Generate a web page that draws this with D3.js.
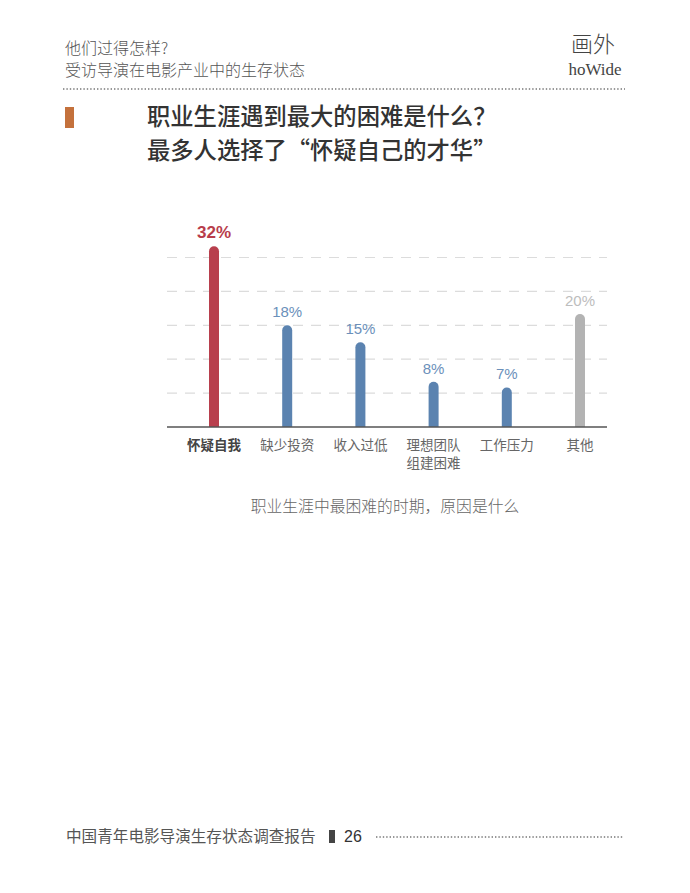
<!DOCTYPE html>
<html>
<head>
<meta charset="utf-8">
<script src="https://cdn.jsdelivr.net/npm/d3@7"></script>
<style>
  html, body { margin: 0; padding: 0; background: #fff; }
  svg { display: block; }
</style>
</head>
<body>
<script>
// ---- data ----
const categories = ["怀疑自我", "缺少投资", "收入过低", "理想团队组建困难", "工作压力", "其他"];
const categoryLines = [["怀疑自我"], ["缺少投资"], ["收入过低"], ["理想团队", "组建困难"], ["工作压力"], ["其他"]];
const values = [32, 18, 15, 8, 7, 20];
const valueLabels = ["32%", "18%", "15%", "8%", "7%", "20%"];
const barKinds = ["highlight", "normal", "normal", "normal", "normal", "other"];
const gridValues = [6, 12, 18, 24, 30];

const headerLines = ["他们过得怎样?", "受访导演在电影产业中的生存状态"];
const titleLines = ["职业生涯遇到最大的困难是什么？", "最多人选择了“怀疑自己的才华”"];
const caption = "职业生涯中最困难的时期，原因是什么";
const footerText = "中国青年电影导演生存状态调查报告";
const pageNumber = "26";

// ---- styles ----
const CJK = "'Noto Sans CJK SC', 'Noto Sans', sans-serif";
const LAT = "'Liberation Sans', Arial, sans-serif";
const barColor = { highlight: "#b83f4d", normal: "#5b83b0", other: "#b3b3b3" };
const labelColor = { highlight: "#b83d4b", normal: "#6b90ba", other: "#bdbdbd" };

const W = 690, H = 893;
const svg = d3.select("body").append("svg").attr("width", W).attr("height", H);

// ---- header ----
svg.selectAll("text.hdr").data(headerLines).enter().append("text")
  .attr("class", "hdr")
  .attr("x", 65).attr("y", (d, i) => 54 + i * 22)
  .attr("font-family", CJK).attr("font-weight", 300).attr("font-size", 16)
  .attr("fill", "#555").text(d => d);

svg.append("text").attr("x", 593).attr("y", 52)
  .attr("text-anchor", "middle")
  .attr("font-family", CJK).attr("font-weight", 300).attr("font-size", 22)
  .attr("fill", "#444").text("画外");
svg.append("text").attr("x", 595).attr("y", 75)
  .attr("text-anchor", "middle")
  .attr("font-family", "'Liberation Serif', 'DejaVu Serif', serif").attr("font-size", 17)
  .attr("fill", "#444").text("hoWide");

svg.append("line").attr("x1", 63).attr("x2", 625).attr("y1", 89).attr("y2", 89)
  .attr("stroke", "#777").attr("stroke-width", 1.4).attr("stroke-dasharray", "1.4,2");

// ---- title ----
svg.append("rect").attr("x", 65).attr("y", 107).attr("width", 9).attr("height", 21)
  .attr("fill", "#c4713c");
svg.selectAll("text.ttl").data(titleLines).enter().append("text")
  .attr("class", "ttl")
  .attr("x", 147).attr("y", (d, i) => 125 + i * 33.5)
  .attr("font-family", CJK).attr("font-weight", 500).attr("font-size", 23.3)
  .attr("fill", "#333").text(d => d);

// ---- chart ----
const x0 = 167, x1 = 607, baseY = 427;
const x = d3.scalePoint().domain(categories).range([214, 580]);
const y = d3.scaleLinear().domain([0, 36]).range([baseY, baseY - 203.4]);

const g = svg.append("g");

g.selectAll("line.grid").data(gridValues).enter().append("line")
  .attr("class", "grid")
  .attr("x1", x0).attr("x2", x1)
  .attr("y1", d => y(d)).attr("y2", d => y(d))
  .attr("stroke", "#dcdcdc").attr("stroke-width", 1.2)
  .attr("stroke-dasharray", "10,8");

const data = categories.map((c, i) => ({ c, v: values[i], label: valueLabels[i], kind: barKinds[i], lines: categoryLines[i] }));
const bw = 10;

g.selectAll("rect.bar").data(data).enter().append("rect")
  .attr("class", "bar")
  .attr("x", d => x(d.c) - bw / 2)
  .attr("width", bw)
  .attr("y", d => y(d.v))
  .attr("height", d => y(0) - y(d.v) + bw / 2)
  .attr("rx", bw / 2)
  .attr("fill", d => barColor[d.kind]);

// cover bottom rounding below baseline
g.append("rect").attr("x", x0).attr("y", baseY).attr("width", x1 - x0).attr("height", 8).attr("fill", "#fff");

g.append("line").attr("x1", x0).attr("x2", x1).attr("y1", baseY).attr("y2", baseY)
  .attr("stroke", "#555").attr("stroke-width", 1.3);

g.selectAll("text.val").data(data).enter().append("text")
  .attr("class", "val")
  .attr("x", d => x(d.c))
  .attr("y", d => y(d.v) - 8)
  .attr("text-anchor", "middle")
  .attr("font-family", LAT)
  .attr("font-weight", d => d.kind === "highlight" ? 700 : 400)
  .attr("font-size", d => d.kind === "highlight" ? 17 : 15)
  .attr("fill", d => labelColor[d.kind])
  .text(d => d.label);

const cat = g.selectAll("text.cat").data(data).enter().append("text")
  .attr("class", "cat")
  .attr("text-anchor", "middle")
  .attr("font-family", CJK)
  .attr("font-weight", d => d.kind === "highlight" ? 700 : 400)
  .attr("font-size", 13.5)
  .attr("fill", d => d.kind === "highlight" ? "#444" : "#666");
cat.selectAll("tspan").data(d => d.lines.map(l => ({ l, xc: x(d.c) }))).enter().append("tspan")
  .attr("x", d => d.xc)
  .attr("y", (d, i) => 450 + i * 17.5)
  .text(d => d.l);

svg.append("text").attr("x", 385).attr("y", 512)
  .attr("text-anchor", "middle")
  .attr("font-family", CJK).attr("font-weight", 300).attr("font-size", 15.8)
  .attr("fill", "#666").text(caption);

// ---- footer ----
svg.append("text").attr("x", 66).attr("y", 842)
  .attr("font-family", CJK).attr("font-size", 15.6)
  .attr("fill", "#555").text(footerText);
svg.append("rect").attr("x", 329).attr("y", 830).attr("width", 6).attr("height", 13).attr("fill", "#444");
svg.append("text").attr("x", 344).attr("y", 842)
  .attr("font-family", LAT).attr("font-size", 16)
  .attr("fill", "#333").text(pageNumber);
svg.append("line").attr("x1", 376).attr("x2", 624).attr("y1", 837).attr("y2", 837)
  .attr("stroke", "#777").attr("stroke-width", 1.4).attr("stroke-dasharray", "1.4,2");
</script>
</body>
</html>
